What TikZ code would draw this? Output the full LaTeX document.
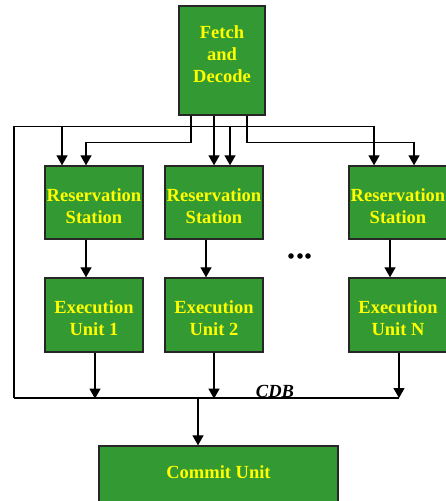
\documentclass[tikz,border=0pt]{standalone}
\usepackage{fontspec}
\setmainfont{Liberation Serif}
\usetikzlibrary{arrows.meta,calc}
\definecolor{boxgreen}{RGB}{51,153,51}
\definecolor{labelyellow}{RGB}{255,255,0}
\tikzset{
  unit/.style={draw=black!85, line width=1.3pt, fill=boxgreen, inner sep=0pt},
  lbl/.style={text=labelyellow, font=\bfseries\fontsize{18.5}{22}\selectfont, align=center, inner sep=0pt},
  wire/.style={line width=1.2pt, draw=black},
  arr/.style={wire, -{Triangle[width=11pt,length=10pt]}},
}
\begin{document}
\begin{tikzpicture}[x=1pt,y=-1pt]
\useasboundingbox (0,0) rectangle (446,501);
\fill[white] (0,0) rectangle (446,501);

% fetch and decode
\node[unit, minimum width=86pt, minimum height=109pt] (fd) at (222,60.5) {};
\node[lbl] (fdt) at (222,54) {Fetch\\and\\Decode};

% reservation stations
\foreach \n/\x in {1/94,2/214,3/398}{
  \node[unit, minimum width=98pt, minimum height=73pt] (rs\n) at (\x,202.5) {};
  \node[lbl] (rst\n) at (\x,206) {Reservation\\Station};
}

% execution units
\node[unit, minimum width=98pt, minimum height=74pt] (eu1) at (94,315) {};
\node[lbl] (eut1) at (94,318) {Execution\\Unit 1};
\node[unit, minimum width=98pt, minimum height=74pt] (eu2) at (214,315) {};
\node[lbl] (eut2) at (214,318) {Execution\\Unit 2};
\node[unit, minimum width=98pt, minimum height=74pt] (eu3) at (398,315) {};
\node[lbl] (eut3) at (398,318) {Execution\\Unit N};

% commit unit
\node[unit, minimum width=239pt, minimum height=56pt] (cu) at (218.5,474) {};
\node[lbl] (cut) at (218.5,472) {Commit Unit};

% ellipsis between the columns
\foreach \x in {291,300,308}{ \fill (\x,256) circle (2.8pt); }

% common data bus
\coordinate (busL) at (14,398);
\coordinate (busR) at (399,398);
\draw[wire] (busL) -- (busR);
\node[font=\bfseries\itshape\fontsize{18.5}{22}\selectfont, inner sep=0pt, anchor=base] (cdb) at (275,397) {CDB};

% issue paths from fetch/decode
\draw[arr] ($(fd.south)+(-31,0)$) -- ++(0,27) -| ($(rs1.north)+(-8,0)$);
\draw[arr] ($(fd.south)+(-8,0)$) -- (rs2.north);
\draw[arr] ($(fd.south)+(25,0)$) -- ++(0,27) -| ($(rs3.north)+(16,0)$);

% result forwarding from the bus back to the stations
\draw[arr] (busL) |- ($(rs3.north)+(-24,-39)$) -- ($(rs3.north)+(-24,0)$);
\draw[arr] ($(rs1.north)+(-32,-39)$) -- ($(rs1.north)+(-32,0)$);
\draw[arr] ($(rs2.north)+(16,-39)$) -- ($(rs2.north)+(16,0)$);

% station to unit
\foreach \n in {1,2,3}{
  \draw[arr] ($(rs\n.south)+(-8,0)$) -- ($(eu\n.north)+(-8,0)$);
}

% units onto the bus
\draw[arr] ($(eu1.south)+(1,0)$) -- ($(eu1.south)+(1,46)$);
\draw[arr] (eu2.south) -- ($(eu2.south)+(0,46)$);
\draw[arr] ($(eu3.south)+(1,0)$) -- (busR);

% bus to commit
\draw[arr] ($(busL)+(184,0)$) -- ($(cu.north)+(-20.5,0)$);
\end{tikzpicture}
\end{document}
